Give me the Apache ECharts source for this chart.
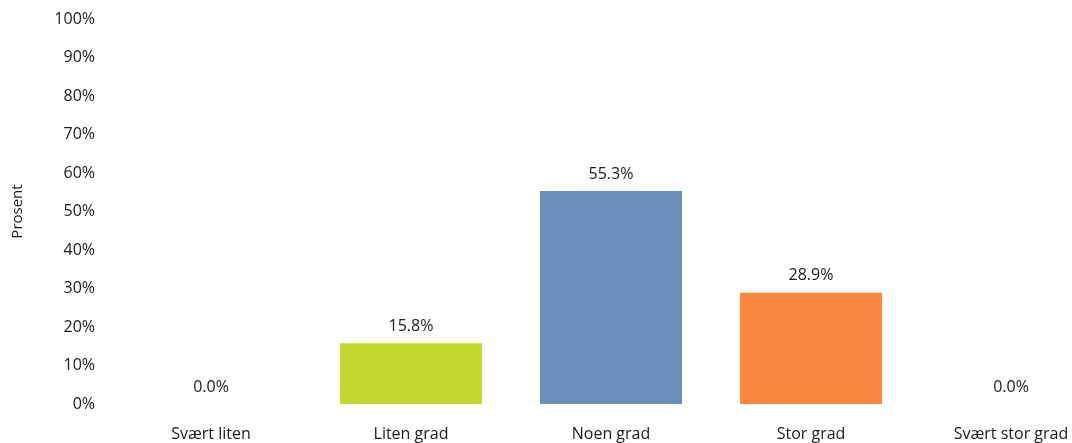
<!DOCTYPE html>
<html>
<head>
<meta charset="utf-8">
<script src="https://cdn.jsdelivr.net/npm/echarts@6/dist/echarts.min.js"></script>
<style>html,body{margin:0;padding:0;background:#fff;}#c{width:1072px;height:443px;}</style>
</head>
<body>
<div id="c"></div>
<script>
const categories = ['Svært liten', 'Liten grad', 'Noen grad', 'Stor grad', 'Svært stor grad'];
const values = [0.0, 15.8, 55.3, 28.9, 0.0];
const colors = ['#c3d82e', '#c3d82e', '#6b8fbb', '#f7883e', '#f7883e'];
const yTicks = [0, 10, 20, 30, 40, 50, 60, 70, 80, 90, 100];

const font = "'Open Sans', 'Liberation Sans', sans-serif";
const chart = echarts.init(document.getElementById('c'), null, {renderer: 'canvas'});
chart.setOption({
  animation: false,
  grid: {left: 111, width: 1000, top: 19, bottom: 39, containLabel: false, outerBoundsMode: 'none'},
  xAxis: {
    type: 'category',
    data: categories,
    axisLine: {show: false},
    axisTick: {show: false},
    axisLabel: {color: '#1a1a1a', fontFamily: font, fontSize: 16, margin: 22, hideOverlap: false}
  },
  yAxis: {
    type: 'value',
    min: yTicks[0],
    max: yTicks[yTicks.length - 1],
    interval: 10,
    name: 'Prosent',
    nameLocation: 'middle',
    nameGap: 86,
    nameTextStyle: {color: '#1a1a1a', fontFamily: font, fontSize: 15},
    axisLine: {show: false},
    axisTick: {show: false},
    splitLine: {show: false},
    axisLabel: {color: '#1a1a1a', fontFamily: font, fontSize: 16, margin: 16, formatter: v => v + '%'}
  },
  series: [{
    type: 'bar',
    data: values.map((v, i) => ({value: v, itemStyle: {color: colors[i]}})),
    barCategoryGap: '29%',
    label: {
      show: true,
      position: 'top',
      distance: 9,
      color: '#1a1a1a',
      fontFamily: font,
      fontSize: 16,
      formatter: p => p.value.toFixed(1) + '%'
    }
  }]
});
</script>
</body>
</html>
